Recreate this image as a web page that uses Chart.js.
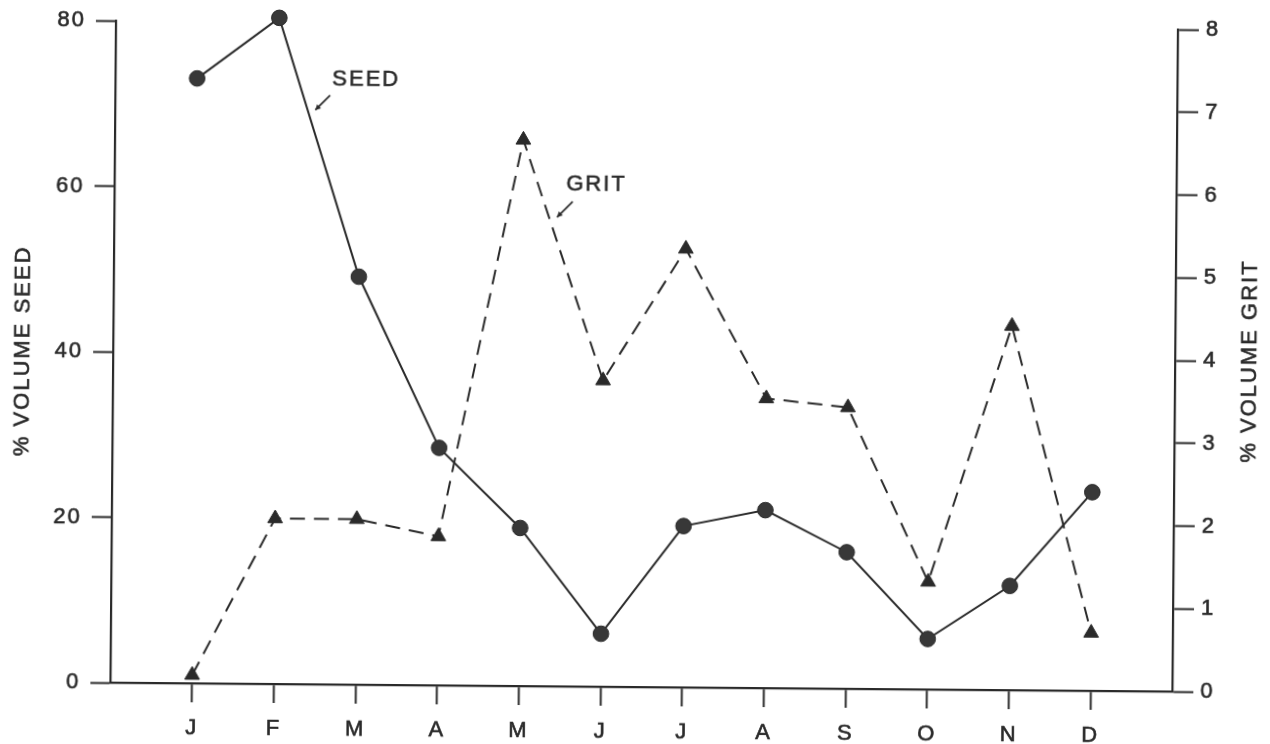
<!DOCTYPE html>
<html>
<head>
<meta charset="utf-8">
<title>Seed and grit volume by month</title>
<script src="https://cdn.jsdelivr.net/npm/chart.js@4.4.1/dist/chart.umd.min.js"></script>
<style>
  html, body { margin: 0; padding: 0; background: #ffffff; overflow: hidden; }
  #wrap { width: 1270px; height: 744px; position: relative; background: #ffffff; }
  /* the printed figure sits very slightly askew on the page */
  #chart { display: block; transform: rotate(0.48deg); transform-origin: 50% 50%; }
</style>
</head>
<body>
<div id="wrap"><canvas id="chart" width="1270" height="744"></canvas></div>
<script>
// Months, Jan..Dec
const months = ['J', 'F', 'M', 'A', 'M', 'J', 'J', 'A', 'S', 'O', 'N', 'D'];
// % volume of seed in the diet (left axis)
const seedPct = [73.1, 80.5, 49.3, 28.7, 19.1, 6.4, 19.5, 21.5, 16.5, 6.1, 12.6, 24.0];
// % volume of grit in the diet (right axis)
const gritPct = [0.1, 2.0, 2.0, 1.8, 6.6, 3.7, 5.3, 3.5, 3.4, 1.3, 4.4, 0.7];
// Axis tick values
const seedTicks = [0, 20, 40, 60, 80];
const gritTicks = [0, 1, 2, 3, 4, 5, 6, 7, 8];
// Axis titles
const seedTitle = '% VOLUME SEED';
const gritTitle = '% VOLUME GRIT';
// Line labels: text anchor (month index, value) and leader from -> to, in the axis units of each series
const seedNote = { text: 'SEED', at: [2.07, 73.1], from: [1.63, 71.2], to: [1.45, 69.4] };
const gritNote = { text: 'GRIT', at: [4.90, 6.07], from: [4.61, 5.86], to: [4.42, 5.67] };

const INK = '#2a2a2a';
const FONT = { family: '"Liberation Sans", Arial, Helvetica, sans-serif', size: 22 };
const SPACING = '2px';

function toPoints(values) {
  return values.map((v, i) => ({ x: i, y: v }));
}

// Wide lettering for every piece of text on the figure
const spacingPlugin = {
  id: 'letterSpacing',
  beforeDraw(chart) { chart.ctx.letterSpacing = SPACING; },
  afterDraw(chart) { chart.ctx.letterSpacing = '0px'; }
};

// Rotated axis titles and the small pointer labels for each line
const textPlugin = {
  id: 'figureText',
  afterDatasetsDraw(chart) {
    const ctx = chart.ctx;
    const area = chart.chartArea;
    const xs = chart.scales.x;
    const ys = chart.scales.ySeed;
    const yg = chart.scales.yGrit;
    ctx.save();
    ctx.fillStyle = INK;
    ctx.strokeStyle = INK;
    ctx.font = `${FONT.size}px ${FONT.family}`;
    ctx.letterSpacing = SPACING;
    ctx.textAlign = 'center';
    ctx.textBaseline = 'middle';
    ctx.lineWidth = 0.6;
    const midY = (area.top + area.bottom) / 2;

    // axis titles, both read bottom to top
    [[23, seedTitle], [1250, gritTitle]].forEach(([x, t]) => {
      ctx.save();
      ctx.translate(x, midY);
      ctx.rotate(-Math.PI / 2);
      ctx.fillText(t, 0, 0);
      ctx.strokeText(t, 0, 0);
      ctx.restore();
    });

    // line labels with short pointers
    const notes = [[seedNote, ys], [gritNote, yg]];
    notes.forEach(([n, sc]) => {
      const tx = xs.getPixelForValue(n.at[0]);
      const ty = sc.getPixelForValue(n.at[1]);
      ctx.lineWidth = 0.6;
      ctx.fillText(n.text, tx, ty);
      ctx.strokeText(n.text, tx, ty);
      const x1 = xs.getPixelForValue(n.from[0]);
      const y1 = sc.getPixelForValue(n.from[1]);
      const x2 = xs.getPixelForValue(n.to[0]);
      const y2 = sc.getPixelForValue(n.to[1]);
      ctx.lineWidth = 1.7;
      ctx.beginPath();
      ctx.moveTo(x1, y1);
      ctx.lineTo(x2, y2);
      ctx.stroke();
      const ang = Math.atan2(y2 - y1, x2 - x1);
      const L = 6, W = 0.5;
      ctx.beginPath();
      ctx.moveTo(x2, y2);
      ctx.lineTo(x2 - L * Math.cos(ang - W), y2 - L * Math.sin(ang - W));
      ctx.lineTo(x2 - L * Math.cos(ang + W), y2 - L * Math.sin(ang + W));
      ctx.closePath();
      ctx.fill();
    });
    ctx.restore();
  }
};

const axisGrid = (len) => ({
  drawOnChartArea: false,
  drawTicks: true,
  tickLength: len,
  tickWidth: 2,
  tickColor: INK,
  color: INK
});
const axisBorder = { display: true, color: INK, width: 2.2 };
const tickText = (pad) => ({
  padding: pad,
  color: INK,
  font: FONT,
  textStrokeColor: INK,
  textStrokeWidth: 0.6
});

new Chart(document.getElementById('chart'), {
  type: 'line',
  data: {
    datasets: [
      {
        label: 'SEED',
        yAxisID: 'ySeed',
        data: toPoints(seedPct),
        borderColor: INK,
        borderWidth: 2,
        pointStyle: 'circle',
        pointRadius: 7.8,
        pointBackgroundColor: '#383838',
        pointBorderColor: INK,
        pointBorderWidth: 1,
        tension: 0,
        clip: false
      },
      {
        label: 'GRIT',
        yAxisID: 'yGrit',
        data: toPoints(gritPct),
        borderColor: INK,
        borderWidth: 2,
        borderDash: [15, 9],
        pointStyle: 'triangle',
        pointRadius: 8.5,
        pointBackgroundColor: INK,
        pointBorderColor: INK,
        pointBorderWidth: 1,
        tension: 0,
        clip: false
      }
    ]
  },
  options: {
    responsive: false,
    devicePixelRatio: 1,
    animation: false,
    layout: { padding: { top: 25, left: 0, right: 0, bottom: 0 } },
    plugins: { legend: { display: false }, tooltip: { enabled: false } },
    scales: {
      x: {
        type: 'linear',
        position: 'bottom',
        min: -1,
        max: months.length,
        afterBuildTicks: (s) => {
          s.ticks = months.map((m, i) => ({ value: i }));
        },
        afterFit: (s) => { s.height = 57; },
        ticks: Object.assign(tickText(13), {
          autoSkip: false,
          maxRotation: 0,
          callback: (v) => months[v] ?? ''
        }),
        grid: axisGrid(19),
        border: axisBorder
      },
      ySeed: {
        type: 'linear',
        position: 'left',
        min: 0,
        max: 80,
        afterBuildTicks: (s) => { s.ticks = seedTicks.map(v => ({ value: v })); },
        afterFit: (s) => { s.width = 113; },
        ticks: tickText(10),
        grid: axisGrid(20),
        border: axisBorder
      },
      yGrit: {
        type: 'linear',
        position: 'right',
        min: 0,
        max: 8,
        afterBuildTicks: (s) => { s.ticks = gritTicks.map(v => ({ value: v })); },
        afterFit: (s) => { s.width = 95; },
        ticks: tickText(7),
        grid: axisGrid(21),
        border: axisBorder
      }
    }
  },
  plugins: [spacingPlugin, textPlugin]
});
</script>
</body>
</html>
